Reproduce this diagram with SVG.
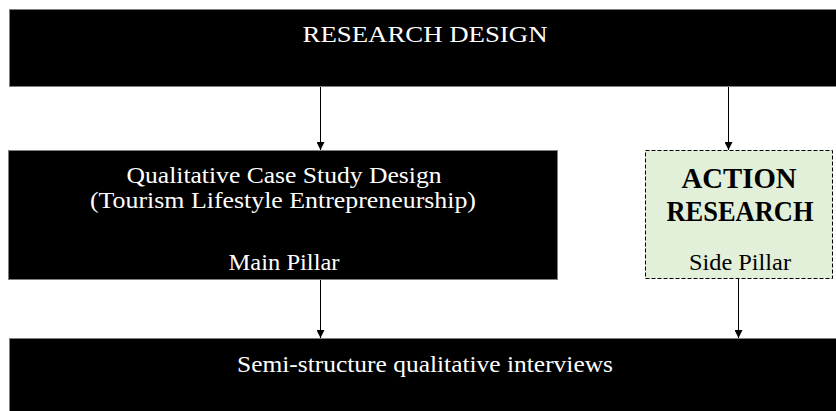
<svg xmlns="http://www.w3.org/2000/svg" width="836" height="411" viewBox="0 0 836 411">
  <defs>
    <marker id="arrow" viewBox="0 0 10 10" refX="10" refY="5" markerWidth="10" markerHeight="8" markerUnits="userSpaceOnUse" orient="auto">
      <path d="M0,0 L10,5 L0,10 Z" fill="#000"/>
    </marker>
    <style>
      .dark { fill: #000; stroke: #7f7f7f; stroke-width: 1; }
      .side { fill: #e2efd9; stroke: #000; stroke-width: 1; stroke-dasharray: 4 2; }
      .t { font-family: "Liberation Serif", "Times New Roman", serif; font-size: 23px; text-anchor: middle; }
      .w { fill: #fff; }
      .b { fill: #000; }
      .bold { font-weight: bold; font-size: 30px; }
      .conn line { stroke: #000; stroke-width: 1; marker-end: url(#arrow); }
    </style>
  </defs>
  <rect width="836" height="411" fill="#fff"/>

  <g id="research-design">
    <rect class="dark" x="9.5" y="9.5" width="840" height="77"/>
    <text class="t w" x="425" y="42" textLength="245" lengthAdjust="spacingAndGlyphs">RESEARCH DESIGN</text>
  </g>

  <g id="case-study">
    <rect class="dark" x="8.5" y="150.5" width="549" height="129"/>
    <text class="t w" x="284" y="183" textLength="315" lengthAdjust="spacingAndGlyphs">Qualitative Case Study Design</text>
    <text class="t w" x="283" y="208" textLength="386" lengthAdjust="spacingAndGlyphs">(Tourism Lifestyle Entrepreneurship)</text>
    <text class="t w" x="284" y="270" textLength="111" lengthAdjust="spacingAndGlyphs">Main Pillar</text>
  </g>

  <g id="action-research">
    <rect class="side" x="645.5" y="150.5" width="187" height="128"/>
    <text class="t b bold" x="739" y="188" textLength="115" lengthAdjust="spacingAndGlyphs">ACTION</text>
    <text class="t b bold" x="740" y="221" textLength="147" lengthAdjust="spacingAndGlyphs">RESEARCH</text>
    <text class="t b" x="740" y="270" textLength="102" lengthAdjust="spacingAndGlyphs">Side Pillar</text>
  </g>

  <g id="interviews">
    <rect class="dark" x="9.5" y="338.5" width="840" height="90"/>
    <text class="t w" x="425" y="372" textLength="376" lengthAdjust="spacingAndGlyphs">Semi-structure qualitative interviews</text>
  </g>

  <g class="conn">
    <line x1="320.5" y1="87" x2="320.5" y2="150"/>
    <line x1="728.5" y1="87" x2="728.5" y2="150"/>
    <line x1="320.5" y1="280" x2="320.5" y2="338"/>
    <line x1="738.5" y1="279" x2="738.5" y2="338"/>
  </g>
</svg>
